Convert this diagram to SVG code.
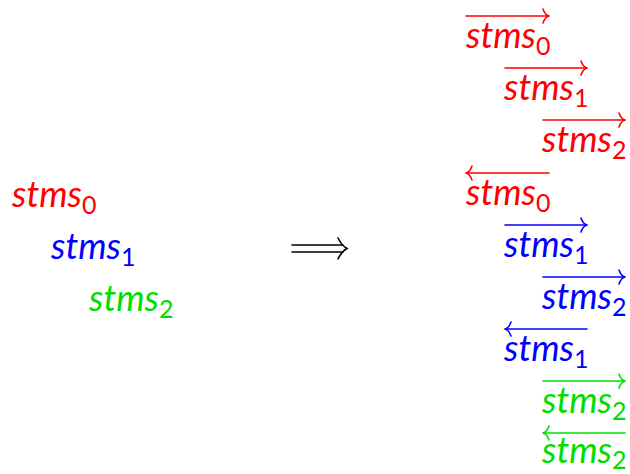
<svg xmlns="http://www.w3.org/2000/svg" width="630" height="474" viewBox="0 0 630 474">
<style>
text{font-family:Lato,"Open Sans","Noto Sans",sans-serif;font-style:italic;font-size:36px}
.sub{font-style:normal;font-size:25px}
.r{fill:#ff0000}.b{fill:#0000ff}.g{fill:#00dd00}
.ar{fill:none;stroke-width:1.6;stroke-linecap:round}
.rs{stroke:#ff0000}.bs{stroke:#0000ff}.gs{stroke:#00dd00}
</style>
<defs>
<path id="rh" d="M-6,-7 Q-4,-1 0,0 Q-4,1 -6,7"/>
<path id="lh" d="M6,-7 Q4,-1 0,0 Q4,1 6,7"/>
</defs>
<g id="left0"><text class="r" x="12" y="207">stms<tspan class="sub" dy="7">0</tspan></text></g>
<g id="left1"><text class="b" x="51" y="259">stms<tspan class="sub" dy="7">1</tspan></text></g>
<g id="left2"><text class="g" x="89" y="311">stms<tspan class="sub" dy="7">2</tspan></text></g>
<g id="implies" fill="none" stroke="#000" stroke-width="1.6" stroke-linecap="round">
<path d="M292,245 H343 M292,252 H343"/>
<path d="M338,238 Q342,246 347,248.5 Q342,251 338,259"/>
</g>
<g id="right">
<g id="r1" class="ar rs"><path d="M466,16 H549"/><use href="#rh" x="549" y="16"/></g>
<text class="r" x="466" y="48">stms<tspan class="sub" dy="7">0</tspan></text>
<g id="r2" class="ar rs"><path d="M505,68 H587"/><use href="#rh" x="587" y="68"/></g>
<text class="r" x="504" y="100">stms<tspan class="sub" dy="7">1</tspan></text>
<g id="r3" class="ar rs"><path d="M543,120 H625"/><use href="#rh" x="625" y="120"/></g>
<text class="r" x="542" y="152">stms<tspan class="sub" dy="7">2</tspan></text>
<g id="r4" class="ar rs"><path d="M466,173 H549"/><use href="#lh" x="466" y="173"/></g>
<text class="r" x="466" y="205">stms<tspan class="sub" dy="7">0</tspan></text>
<g id="r5" class="ar bs"><path d="M505,225 H587"/><use href="#rh" x="587" y="225"/></g>
<text class="b" x="504" y="257">stms<tspan class="sub" dy="7">1</tspan></text>
<g id="r6" class="ar bs"><path d="M543,277 H625"/><use href="#rh" x="625" y="277"/></g>
<text class="b" x="542" y="309">stms<tspan class="sub" dy="7">2</tspan></text>
<g id="r7" class="ar bs"><path d="M505,329 H587"/><use href="#lh" x="505" y="329"/></g>
<text class="b" x="504" y="361">stms<tspan class="sub" dy="7">1</tspan></text>
<g id="r8" class="ar gs"><path d="M543,381 H625"/><use href="#rh" x="625" y="381"/></g>
<text class="g" x="542" y="413">stms<tspan class="sub" dy="7">2</tspan></text>
<g id="r9" class="ar gs"><path d="M543,433 H625"/><use href="#lh" x="543" y="433"/></g>
<text class="g" x="542" y="463">stms<tspan class="sub" dy="6">2</tspan></text>
</g>
</svg>
